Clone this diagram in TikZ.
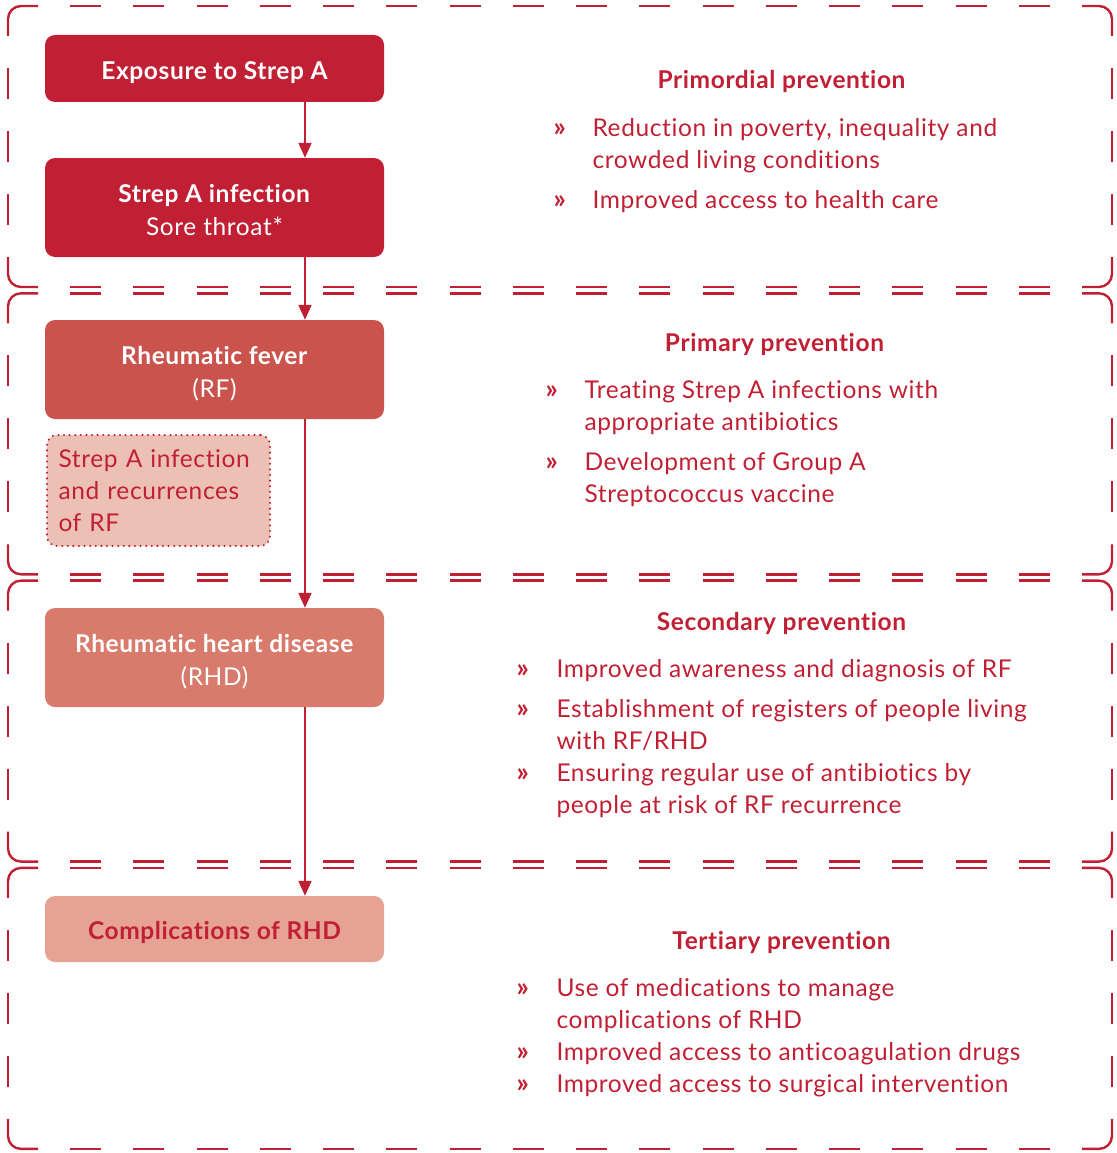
\documentclass[tikz,border=0pt]{standalone}
\usepackage{fontspec}
\setmainfont{Lato}[Ligatures=NoCommon, LetterSpace=2.5]
\usetikzlibrary{arrows.meta,calc}

\definecolor{rhdred}{HTML}{C11F33}
\definecolor{rffill}{HTML}{CB534E}
\definecolor{rhdfill}{HTML}{D87A6C}
\definecolor{compfill}{HTML}{E6A394}
\definecolor{recfill}{HTML}{ECC0B4}

\newcommand\txtsize{\fontsize{24.5}{33}\selectfont}

\tikzset{
  frame line/.style={draw=rhdred, line width=2.4pt, line cap=butt},
  stagebox/.style={rectangle, rounded corners=10pt, minimum width=339pt,
    inner sep=0pt, text depth=0pt, font=\txtsize},
  flow/.style={draw=rhdred, line width=2pt,
    -{Triangle[length=15pt,width=13pt]}},
  heading/.style={anchor=base, text=rhdred, font=\txtsize\bfseries},
  item/.style={anchor=base west, text=rhdred, font=\txtsize},
  bulletmark/.style={anchor=base west, text=rhdred, font=\fontsize{27}{33}\selectfont\bfseries}
}

% centred lines, baseline of the last line used as the box baseline
\newcommand\stagetext[1]{\parbox[b]{330pt}{\centering #1}}

% dashed frame with solid rounded corners: x0 y0 x1 y1 (y grows downward)
\newcommand\stageframe[4]{%
  \pgfmathsetmacro\lh{#3-#1-60}%
  \pgfmathsetmacro\nh{round((\lh-32)/63)}%
  \pgfmathsetmacro\gh{(\lh-31*\nh)/(\nh+1)}%
  \pgfmathsetmacro\lv{#4-#2-60}%
  \pgfmathsetmacro\nv{round((\lv-32)/63)}%
  \pgfmathsetmacro\gv{(\lv-31*\nv)/(\nv+1)}%
  \draw[frame line, rounded corners=13pt] (#1,#2+30) -- (#1,#2) -- (#1+30,#2);
  \draw[frame line, rounded corners=13pt] (#3-30,#2) -- (#3,#2) -- (#3,#2+30);
  \draw[frame line, rounded corners=13pt] (#3,#4-30) -- (#3,#4) -- (#3-30,#4);
  \draw[frame line, rounded corners=13pt] (#1+30,#4) -- (#1,#4) -- (#1,#4-30);
  \draw[frame line, dash pattern=on 31pt off \gh pt, dash phase=31pt] (#1+30,#2) -- (#3-30,#2);
  \draw[frame line, dash pattern=on 31pt off \gh pt, dash phase=31pt] (#1+30,#4) -- (#3-30,#4);
  \draw[frame line, dash pattern=on 31pt off \gv pt, dash phase=31pt] (#1,#2+30) -- (#1,#4-30);
  \draw[frame line, dash pattern=on 31pt off \gv pt, dash phase=31pt] (#3,#2+30) -- (#3,#4-30);
}

\begin{document}
\begin{tikzpicture}[x=1pt, y=-1pt]
\useasboundingbox (0,0) rectangle (1116,1153);

% prevention levels
\stageframe{8}{6}{1112}{287}
\stageframe{8}{293.3}{1112}{574.3}
\stageframe{8}{580.6}{1112}{861.6}
\stageframe{8}{867.9}{1112}{1148.9}

% disease progression
\node[stagebox, fill=rhdred, text=white, minimum height=67pt, text height=23pt] (exposure) at (214.5,68.5)
  {\stagetext{\bfseries Exposure to Strep A}};
\node[stagebox, fill=rhdred, text=white, minimum height=99pt, text height=55pt] (infection) at (214.5,207.5)
  {\stagetext{\textbf{Strep A infection}\\Sore throat*}};
\node[stagebox, fill=rffill, text=white, minimum height=99pt, text height=55pt] (rf) at (214.5,369.5)
  {\stagetext{\textbf{Rheumatic fever}\\(RF)}};
\node[rectangle, rounded corners=10pt, fill=recfill, draw=rhdred, line width=2.3pt,
  dash pattern=on 0pt off 5.6pt, line cap=round, minimum width=223pt, minimum height=111pt,
  text width=200pt, align=left, inner sep=0pt, text=rhdred,
  font=\fontsize{24.5}{32}\selectfont] (recur) at (158.5,490.5)
  {Strep A infection\\and recurrences\\of RF};
\node[stagebox, fill=rhdfill, text=white, minimum height=99pt, text height=55pt] (rhd) at (214.5,657.5)
  {\stagetext{\textbf{Rheumatic heart disease}\\(RHD)}};
\node[stagebox, fill=compfill, text=rhdred, minimum height=66pt, text height=20pt] (comp) at (214.5,929)
  {\stagetext{\bfseries Complications of RHD}};

\coordinate (ax) at (305,0);
\draw[flow] (exposure.south -| ax) -- (infection.north -| ax);
\draw[flow] (infection.south -| ax) -- (rf.north -| ax);
\draw[flow] (rf.south -| ax) -- (rhd.north -| ax);
\draw[flow] (rhd.south -| ax) -- (comp.north -| ax);

% primordial prevention
\node[heading] (h1) at (781.5,89) {Primordial prevention};
\node[bulletmark] (m11) at (550,136) {»};
\node[item] (t11) at (589,136) {Reduction in poverty, inequality and};
\node[item] (t12) at (589,168) {crowded living conditions};
\node[bulletmark] (m12) at (550,208) {»};
\node[item] (t13) at (589,208) {Improved access to health care};

% primary prevention
\node[heading] (h2) at (774.5,351) {Primary prevention};
\node[bulletmark] (m21) at (542,398) {»};
\node[item] (t21) at (581,398) {Treating Strep A infections with};
\node[item] (t22) at (581,430) {appropriate antibiotics};
\node[bulletmark] (m22) at (542,470) {»};
\node[item] (t23) at (581,470) {Development of Group A};
\node[item] (t24) at (581,502) {Streptococcus vaccine};

% secondary prevention
\node[heading] (h3) at (781.5,630) {Secondary prevention};
\node[bulletmark] (m31) at (513,677) {»};
\node[item] (t31) at (553,677) {Improved awareness and diagnosis of RF};
\node[bulletmark] (m32) at (513,717) {»};
\node[item] (t32) at (553,717) {Establishment of registers of people living};
\node[item] (t33) at (553,749) {with RF/RHD};
\node[bulletmark] (m33) at (513,781) {»};
\node[item] (t34) at (553,781) {Ensuring regular use of antibiotics by};
\node[item] (t35) at (553,813) {people at risk of RF recurrence};

% tertiary prevention
\node[heading] (h4) at (781.5,949) {Tertiary prevention};
\node[bulletmark] (m41) at (513,996) {»};
\node[item] (t41) at (553,996) {Use of medications to manage};
\node[item] (t42) at (553,1028) {complications of RHD};
\node[bulletmark] (m42) at (513,1060) {»};
\node[item] (t43) at (553,1060) {Improved access to anticoagulation drugs};
\node[bulletmark] (m43) at (513,1092) {»};
\node[item] (t44) at (553,1092) {Improved access to surgical intervention};
\end{tikzpicture}
\end{document}
